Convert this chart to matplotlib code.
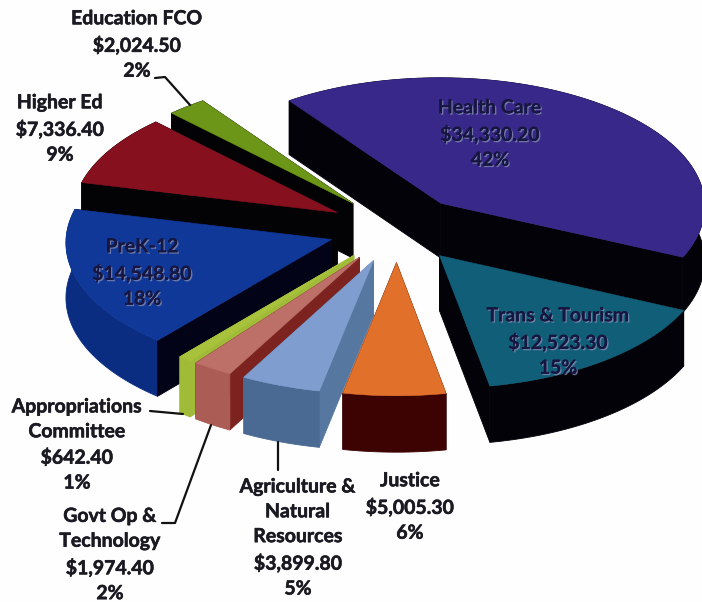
import numpy as np
import matplotlib
matplotlib.use('Agg')
import matplotlib.pyplot as plt
import matplotlib.patheffects as pe
from matplotlib.patches import Polygon

names = ['Health Care', 'Trans & Tourism', 'Justice', 'Agriculture &\nNatural\nResources',
         'Govt Op &\nTechnology', 'Appropriations\nCommittee', 'PreK-12', 'Higher Ed', 'Education FCO']
values = [34330.20, 12523.30, 5005.30, 3899.80, 1974.40, 642.40, 14548.80, 7336.40, 2024.50]

top_colors = ['#38288a', '#115e78', '#e0702a', '#809dcf', '#bd7068', '#a8c23c', '#103898', '#86101e', '#6c9618']
outer_colors = ['#020208', '#020208', '#3d0303', '#4a6a93', '#ab5c54', '#a0bb38', '#0a2d82', '#030305', '#030305']
radial_colors = ['#020208', '#020208', '#3d0303', '#56779f', '#7c2320', '#a0bb38', '#030318', '#030305', '#030305']

label_pos = [(490, 134), (558, 342), (410, 507), (298, 538), (110, 555), (77, 445), (142, 273), (60, 129), (137, 45)]
inside = [True, True, False, False, False, False, True, False, False]

leaders = [
    [(155, 78), (165, 77), (190, 105)],
    [(150, 411), (183, 414)],
    [(162, 523), (175, 523), (211, 425)],
    [(278, 442), (278, 470)],
]

cx, cy = 397, 229
rx, ry = 265, 129
depth = 55
explode = 0.26
start_angle = -35.5
persp = 0.02


def project(x, y, drop=0.0):
    s = 1 / (1 + persp * y)
    return np.column_stack((cx + rx * x * s, cy - ry * y * s + drop * s))


def wall(a, b):
    # quad strip hanging below the edge running through a
    return np.vstack((a, b[::-1]))


def draw_slice(ax, t0, t1, top_col, outer_col, radial_col):
    mid = np.radians((t0 + t1) / 2)
    ox, oy = explode * np.sin(mid), explode * np.cos(mid)
    t = np.radians(np.linspace(t0, t1, 80))
    rim_x, rim_y = ox + np.sin(t), oy + np.cos(t)

    top_pts = project(np.r_[ox, rim_x], np.r_[oy, rim_y])

    faces = []
    for tip in (0, -1):
        xs, ys = np.array([ox, rim_x[tip]]), np.array([oy, rim_y[tip]])
        faces.append((ys.mean(), wall(project(xs, ys), project(xs, ys, depth)), radial_col))
    faces.append((rim_y.mean(), wall(project(rim_x, rim_y), project(rim_x, rim_y, depth)), outer_col))

    # back walls first, the lid goes on last
    for _, pts, col in sorted(faces, key=lambda f: -f[0]):
        ax.add_patch(Polygon(pts, closed=True, fc=col, ec=col, lw=0.6))
    ax.add_patch(Polygon(top_pts, closed=True, fc=top_col, ec=top_col, lw=0.4))


fig = plt.figure(figsize=(7.02, 6.02), dpi=100)
ax = fig.add_axes([0, 0, 1, 1])
ax.set_xlim(0, 702)
ax.set_ylim(602, 0)
ax.axis('off')

vals = np.array(values)
spans = vals / vals.sum() * 360
edges = start_angle + np.r_[0, np.cumsum(spans)]
mids = np.radians((edges[:-1] + edges[1:]) / 2)

# painter's order, far slices first
for i in np.argsort(-np.cos(mids)):
    draw_slice(ax, edges[i], edges[i + 1], top_colors[i], outer_colors[i], radial_colors[i])

for pts in leaders:
    xs, ys = zip(*pts)
    ax.plot(xs, ys, color='#111111', lw=1.6, solid_capstyle='round')

for i, name in enumerate(names):
    pct = vals[i] / vals.sum() * 100
    label = f'{name}\n${vals[i]:,.2f}\n{pct:.0f}%'
    x, y = label_pos[i]
    txt = ax.text(x, y, label, ha='center', va='center', family='Lato', weight='bold',
                  fontsize=14, linespacing=1.56, color='#1a1a22' if not inside[i] else '#161640')
    if inside[i]:
        txt.set_path_effects([pe.withSimplePatchShadow(offset=(1, -1), shadow_rgbFace='#7f88ad', alpha=0.8),
                              pe.Normal()])
    else:
        txt.set_path_effects([pe.withStroke(linewidth=0.4, foreground='#1a1a22')])

fig.savefig('out.png', dpi=100, facecolor='#fefefe')
